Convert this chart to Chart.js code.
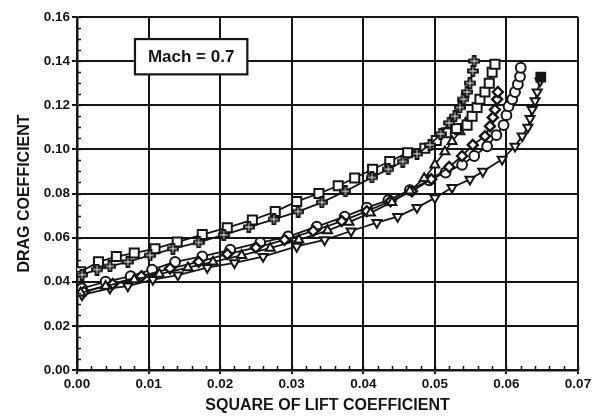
<!DOCTYPE html>
<html><head><meta charset="utf-8">
<script src="https://cdn.jsdelivr.net/npm/chart.js@4/dist/chart.umd.min.js"></script>
<style>html,body{margin:0;padding:0;background:#fff;}#wrap{width:613px;height:418px;}</style>
</head><body><div id="wrap"><canvas id="c" width="613" height="418"></canvas></div>
<script>
const xTickLabels = ['0.00','0.01','0.02','0.03','0.04','0.05','0.06','0.07'];
const yTickLabels = ['0.00','0.02','0.04','0.06','0.08','0.10','0.12','0.14','0.16'];
const xTitle = 'SQUARE OF LIFT COEFFICIENT';
const yTitle = 'DRAG COEFFICIENT';
const boxLabel = 'Mach = 0.7';

const squaresX = [0.0005,0.0030,0.0055,0.0080,0.0109,0.0140,0.0175,0.0210,0.0245,0.0277,0.0307,0.0338,0.0365,0.0388,0.0413,0.0437,0.0462,0.0486,0.0502,0.0516,0.0530,0.0545,0.0552,0.0559,0.0563,0.0570,0.0576,0.0580,0.0584];
const squaresY = [0.0445,0.0490,0.0514,0.0530,0.0550,0.0580,0.0614,0.0645,0.0680,0.0718,0.0764,0.0800,0.0835,0.0870,0.0910,0.0945,0.0985,0.1005,0.1040,0.1075,0.1095,0.1110,0.1150,0.1190,0.1227,0.1260,0.1300,0.1350,0.1386];

const plusX = [0.0007,0.0028,0.0046,0.0071,0.0102,0.0134,0.0170,0.0205,0.0240,0.0275,0.0309,0.0342,0.0375,0.0412,0.0435,0.0455,0.0475,0.0493,0.0508,0.0520,0.0528,0.0535,0.0540,0.0545,0.0549,0.0553,0.0555];
const plusY = [0.0432,0.0455,0.0470,0.0490,0.0520,0.0550,0.0578,0.0612,0.0648,0.0683,0.0718,0.0760,0.0810,0.0873,0.0910,0.0945,0.0980,0.1020,0.1070,0.1120,0.1150,0.1190,0.1227,0.1260,0.1300,0.1355,0.1400];

const triUpX = [0.0005,0.0040,0.0080,0.0115,0.0155,0.0190,0.0230,0.0270,0.0310,0.0350,0.0380,0.0410,0.0440,0.0465,0.0485,0.0500,0.0514,0.0524,0.0535,0.0543];
const triUpY = [0.0350,0.0380,0.0410,0.0435,0.0464,0.0490,0.0520,0.0552,0.0590,0.0632,0.0670,0.0712,0.0760,0.0812,0.0868,0.0930,0.0990,0.1036,0.1080,0.1120];

const diamondX = [0.0010,0.0050,0.0090,0.0130,0.0170,0.0210,0.0250,0.0290,0.0330,0.0370,0.0405,0.0438,0.0468,0.0495,0.0520,0.0538,0.0553,0.0570,0.0577,0.0581,0.0584,0.0587,0.0588];
const diamondY = [0.0355,0.0390,0.0425,0.0460,0.0490,0.0525,0.0555,0.0590,0.0630,0.0675,0.0720,0.0765,0.0810,0.0865,0.0920,0.0970,0.1020,0.1060,0.1105,0.1145,0.1180,0.1227,0.1260];

const circleX = [0.0007,0.0040,0.0075,0.0105,0.0137,0.0175,0.0214,0.0256,0.0295,0.0335,0.0374,0.0405,0.0435,0.0465,0.0492,0.0515,0.0538,0.0555,0.0573,0.0586,0.0596,0.0600,0.0603,0.0608,0.0612,0.0616,0.0619,0.0620];
const circleY = [0.0370,0.0400,0.0425,0.0455,0.0490,0.0515,0.0545,0.0577,0.0605,0.0650,0.0695,0.0736,0.0770,0.0815,0.0860,0.0895,0.0930,0.0970,0.1014,0.1065,0.1110,0.1155,0.1195,0.1227,0.1260,0.1295,0.1330,0.1370];

const triDownX = [0.0007,0.0046,0.0071,0.0106,0.0141,0.0182,0.0220,0.0260,0.0307,0.0346,0.0383,0.0419,0.0448,0.0475,0.0500,0.0524,0.0549,0.0567,0.0594,0.0612,0.0622,0.0630,0.0633,0.0636,0.0640,0.0643,0.0647,0.0648];
const triDownY = [0.0340,0.0370,0.0380,0.0410,0.0430,0.0464,0.0486,0.0514,0.0560,0.0590,0.0630,0.0668,0.0695,0.0736,0.0780,0.0827,0.0864,0.0900,0.0955,0.1014,0.1060,0.1100,0.1140,0.1180,0.1220,0.1260,0.1310,0.1327];

const INK = '#151515';
const FONT = "'Liberation Sans', Arial, sans-serif";

function pts(xs, ys){ return xs.map((x,i)=>({x:x, y:ys[i]})); }

function plusImage(){
  const s = 12, c = document.createElement('canvas');
  c.width = s; c.height = s;
  const g = c.getContext('2d');
  const m = s/2, a = 4.9, t = 1.4;
  g.beginPath();
  g.moveTo(m-t, m-a); g.lineTo(m+t, m-a); g.lineTo(m+t, m-t); g.lineTo(m+a, m-t);
  g.lineTo(m+a, m+t); g.lineTo(m+t, m+t); g.lineTo(m+t, m+a); g.lineTo(m-t, m+a);
  g.lineTo(m-t, m+t); g.lineTo(m-a, m+t); g.lineTo(m-a, m-t); g.lineTo(m-t, m-t);
  g.closePath();
  g.fillStyle = '#fff'; g.fill();
  g.lineWidth = 2; g.strokeStyle = INK; g.stroke();
  return c;
}

function series(xs, ys, style, extra){
  return Object.assign({
    data: pts(xs, ys),
    showLine: true,
    borderColor: INK,
    borderWidth: 1.8,
    pointStyle: style,
    pointRadius: 5,
    pointBorderWidth: 2,
    pointBorderColor: INK,
    pointBackgroundColor: '#fff',
    tension: 0
  }, extra || {});
}

const nTD = triDownX.length;
const datasets = [
  series(plusX, plusY, plusImage()),
  series(squaresX, squaresY, 'rect', {pointRadius: 6.4}),
  series(triUpX, triUpY, 'triangle', {pointRadius: 5.2}),
  series(diamondX, diamondY, 'rectRot', {pointRadius: 5, pointBorderWidth: 2.4}),
  series(circleX, circleY, 'circle', {pointRadius: 4.9}),
  series(triDownX, triDownY, 'triangle', {
    pointRadius: triDownX.map((_,i)=> i===nTD-1 ? 6.2 : 5.2),
    pointStyle: triDownX.map((_,i)=> i===nTD-1 ? 'rect' : 'triangle'),
    pointRotation: triDownX.map((_,i)=> i===nTD-1 ? 0 : 180),
    pointBackgroundColor: triDownX.map((_,i)=> i===nTD-1 ? INK : '#fff')
  })
];

const decor = {
  id: 'decor',
  beforeDraw(chart){
    const {ctx} = chart;
    ctx.save();
    ctx.fillStyle = '#fff';
    ctx.fillRect(0,0,chart.width,chart.height);
    ctx.restore();
  },
  afterDraw(chart){
    const {ctx, chartArea: a, scales: {x, y}} = chart;
    ctx.save();
    ctx.strokeStyle = INK; ctx.lineWidth = 1.5;
    for (let v = 0; v <= 0.0701; v += 0.002){
      const px = Math.round(x.getPixelForValue(v)) + 0.5;
      ctx.beginPath(); ctx.moveTo(px, a.bottom); ctx.lineTo(px, a.bottom - 4); ctx.stroke();
    }
    for (let v = 0; v <= 0.1601; v += 0.005){
      const py = Math.round(y.getPixelForValue(v)) + 0.5;
      ctx.beginPath(); ctx.moveTo(a.left, py); ctx.lineTo(a.left + 4, py); ctx.stroke();
    }
    const bx0 = x.getPixelForValue(0.0081), bx1 = x.getPixelForValue(0.0238);
    const by0 = y.getPixelForValue(0.150), by1 = y.getPixelForValue(0.134);
    ctx.fillStyle = '#fff';
    ctx.fillRect(bx0, by0, bx1-bx0, by1-by0);
    ctx.lineWidth = 2.2; ctx.strokeStyle = INK;
    ctx.strokeRect(bx0, by0, bx1-bx0, by1-by0);
    ctx.fillStyle = INK;
    ctx.font = "bold 17px " + FONT;
    ctx.textAlign = 'center'; ctx.textBaseline = 'middle';
    ctx.fillText(boxLabel, (bx0+bx1)/2, (by0+by1)/2 + 1);
    ctx.restore();
  }
};

const tickFont = {family: FONT, size: 13.5, weight: 'bold'};
const titleFont = {family: FONT, size: 16, weight: 'bold'};

new Chart(document.getElementById('c'), {
  type: 'scatter',
  data: { datasets },
  options: {
    responsive: false,
    animation: false,
    devicePixelRatio: 1,
    layout: { padding: { top: 17, right: 35, left: 0, bottom: 0 } },
    plugins: { legend: {display: false}, tooltip: {enabled: false} },
    scales: {
      x: {
        type: 'linear', min: 0, max: 0.07,
        afterBuildTicks: s => { s.ticks = xTickLabels.map(t => ({value: parseFloat(t)})); },
        afterFit: s => { s.height = 48; },
        ticks: { callback: (v) => xTickLabels.find(t => Math.abs(parseFloat(t)-v) < 1e-9) || '', font: tickFont, color: INK, padding: 2, maxRotation: 0, autoSkip: false },
        grid: { color: INK, lineWidth: 2, tickLength: 4 },
        border: { color: INK, width: 2.5 },
        title: { display: true, text: xTitle, font: titleFont, color: INK, padding: {top: 2, bottom: 3} }
      },
      y: {
        type: 'linear', min: 0, max: 0.16,
        afterBuildTicks: s => { s.ticks = yTickLabels.map(t => ({value: parseFloat(t)})); },
        afterFit: s => { s.width = 77; },
        ticks: { callback: (v) => yTickLabels.find(t => Math.abs(parseFloat(t)-v) < 1e-9) || '', font: tickFont, color: INK, padding: 2, autoSkip: false },
        grid: { color: INK, lineWidth: 2, tickLength: 5 },
        border: { color: INK, width: 2.5 },
        title: { display: true, text: yTitle, font: titleFont, color: INK, padding: {top: 15, bottom: 2} }
      }
    }
  },
  plugins: [decor]
});
</script>
</body></html>
